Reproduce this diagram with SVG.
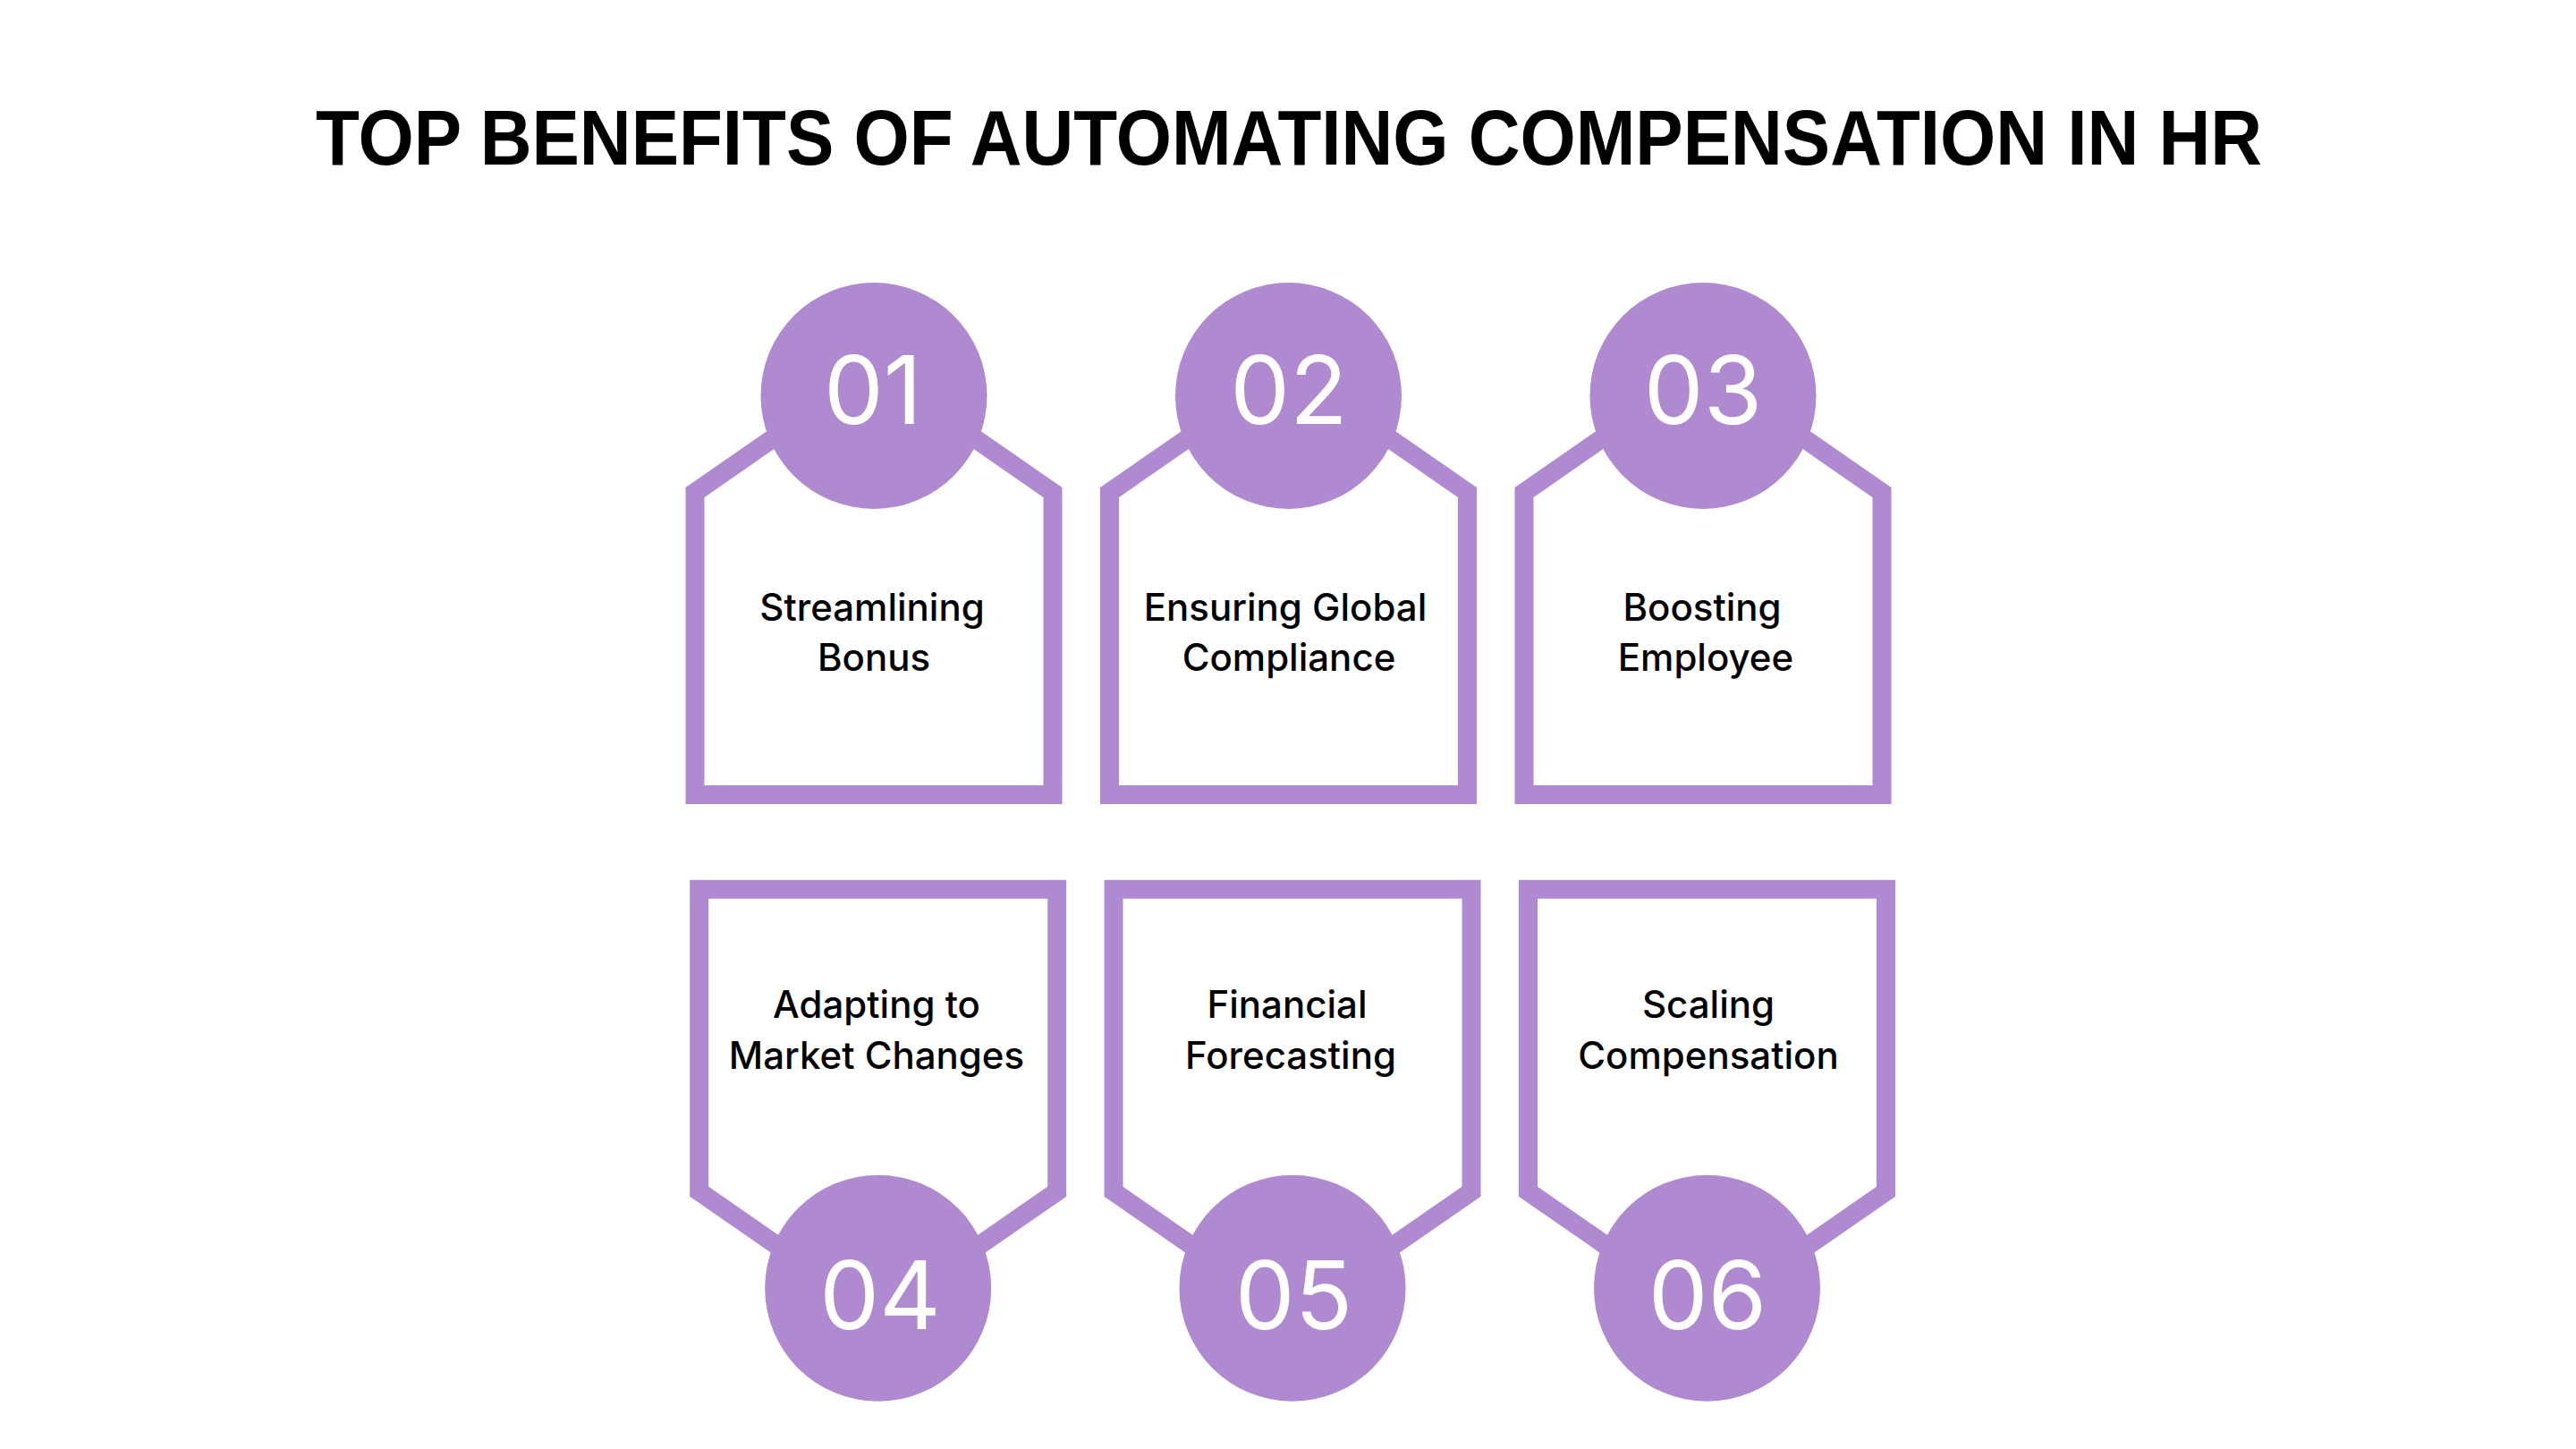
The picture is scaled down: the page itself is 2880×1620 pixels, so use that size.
<svg xmlns="http://www.w3.org/2000/svg" width="2880" height="1620" viewBox="0 0 2880 1620">
  <style>
    .frame { fill: #ffffff; stroke: #B08AD0; stroke-width: 21; stroke-linejoin: miter; }
    .badge { fill: #B08AD0; }
    .num { font-family: Inter, "Noto Sans", sans-serif; font-weight: 400; font-size: 106px; fill: #ffffff; text-anchor: middle; }
    .label { font-family: Inter, "Noto Sans", sans-serif; font-weight: 500; font-size: 42px; fill: #000000; text-anchor: middle; }
    .title { font-family: "Liberation Sans", Arial, sans-serif; font-weight: 700; font-size: 88px; fill: #000000; text-anchor: middle; }
  </style>
  <rect width="2880" height="1620" fill="#ffffff"/>
  <text class="title" x="1441" y="184" textLength="2176" lengthAdjust="spacingAndGlyphs">TOP BENEFITS OF AUTOMATING COMPENSATION IN HR</text>
  <g id="connectors"/>
  <g id="node-01">
    <path class="frame" d="M777 888.5 V550.5 L977 411.9 L1177 550.5 V888.5 Z"/>
    <circle class="badge" cx="977" cy="442.5" r="126.5"/>
    <text class="num" x="976" y="474">01</text>
    <text class="label" x="975" y="694">Streamlining</text>
    <text class="label" x="977" y="750">Bonus</text>
  </g>
  <g id="node-02">
    <path class="frame" d="M1240.5 888.5 V550.5 L1440.5 411.9 L1640.5 550.5 V888.5 Z"/>
    <circle class="badge" cx="1440.5" cy="442.5" r="126.5"/>
    <text class="num" x="1441" y="474">02</text>
    <text class="label" x="1437" y="694">Ensuring Global</text>
    <text class="label" x="1441" y="750">Compliance</text>
  </g>
  <g id="node-03">
    <path class="frame" d="M1704 888.5 V550.5 L1904 411.9 L2104 550.5 V888.5 Z"/>
    <circle class="badge" cx="1904" cy="442.5" r="126.5"/>
    <text class="num" x="1904" y="474">03</text>
    <text class="label" x="1903" y="694">Boosting</text>
    <text class="label" x="1907" y="750">Employee</text>
  </g>
  <g id="node-04">
    <path class="frame" d="M781.7 994.2 H1181.7 V1332.2 L981.7 1470.8 L781.7 1332.2 Z"/>
    <circle class="badge" cx="981.7" cy="1440.2" r="126.5"/>
    <text class="num" x="984" y="1486">04</text>
    <text class="label" x="980" y="1138">Adapting to</text>
    <text class="label" x="980" y="1195">Market Changes</text>
  </g>
  <g id="node-05">
    <path class="frame" d="M1245 994.2 H1645 V1332.2 L1445 1470.8 L1245 1332.2 Z"/>
    <circle class="badge" cx="1445" cy="1440.2" r="126.5"/>
    <text class="num" x="1446.5" y="1486">05</text>
    <text class="label" x="1439" y="1138">Financial</text>
    <text class="label" x="1443" y="1195">Forecasting</text>
  </g>
  <g id="node-06">
    <path class="frame" d="M1708.5 994.2 H2108.5 V1332.2 L1908.5 1470.8 L1708.5 1332.2 Z"/>
    <circle class="badge" cx="1908.5" cy="1440.2" r="126.5"/>
    <text class="num" x="1909" y="1486">06</text>
    <text class="label" x="1910" y="1138">Scaling</text>
    <text class="label" x="1910" y="1195">Compensation</text>
  </g>
</svg>
